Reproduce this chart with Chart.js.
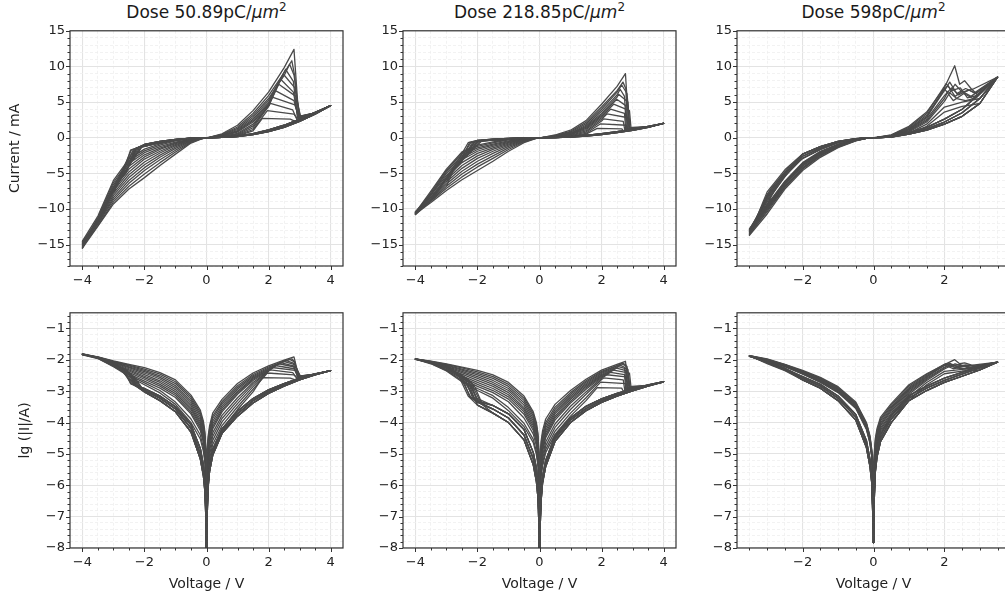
<!DOCTYPE html>
<html>
<head>
<meta charset="utf-8">
<script src="https://cdn.jsdelivr.net/npm/chart.js@4.4.1/dist/chart.umd.min.js"></script>
<style>
  html, body { margin: 0; padding: 0; background: #fff; width: 1005px; height: 599px; overflow: hidden; }
  .panel { position: absolute; }
  .ttl { position: absolute; top: 2px; width: 273px; text-align: center; white-space: nowrap;
         font: 17px/20px "DejaVu Sans"; color: #1a1a1a; }
  .ttl i { font-style: italic; }
  .ttl sup { font-size: 12px; line-height: 0; vertical-align: 7px; }
</style>
</head>
<body>
<div class="ttl" style="left:70px">Dose 50.89pC/<i>μm</i><sup>2</sup></div>
<div class="ttl" style="left:403px">Dose 218.85pC/<i>μm</i><sup>2</sup></div>
<div class="ttl" style="left:737px">Dose 598pC/<i>μm</i><sup>2</sup></div>

<canvas class="panel" id="ivA" width="355" height="293" style="left:0px;top:18px"></canvas>
<canvas class="panel" id="ivB" width="355" height="293" style="left:333px;top:18px"></canvas>
<canvas class="panel" id="ivC" width="355" height="293" style="left:667px;top:18px"></canvas>
<canvas class="panel" id="lgA" width="355" height="293" style="left:0px;top:300px"></canvas>
<canvas class="panel" id="lgB" width="355" height="293" style="left:333px;top:300px"></canvas>
<canvas class="panel" id="lgC" width="355" height="293" style="left:667px;top:300px"></canvas>

<script>
// voltage steps shared by the sweeps (V)
const upV = [0.01, 0.05, 0.1, 0.2, 0.5, 1, 1.5, 2, 2.5];
const setV = [-0.01, -0.05, -0.1, -0.2, -0.5, -1, -1.5, -2];
const hrsV = [3.5, 3, 2.5, 2, 1.5, 1, 0.5, 0.2, 0.1, 0.05, 0.01];
const backV = [-4, -3.5, -3, -2.5, -2, -1.5, -1, -0.5, -0.2, -0.1, -0.05, -0.01];
const cHrsV = [3, 2.5, 2, 1.5, 1, 0.5, 0.2, 0.1, 0.05, 0.01];
const cBackV = [-3.5, -3, -2.5, -2, -1.5, -1, -0.5, -0.2, -0.1, -0.05, -0.01];

// ---- Dose 50.89 pC/um2, currents in mA ----
const aZeroI = 0.000001;
const aUp = [
  [0.009, 0.035, 0.08, 0.2, 0.55, 1.75, 3.8, 6.4, 9.8],
  [0.006, 0.027, 0.064, 0.16, 0.46, 1.5, 3.4, 5.9, 9.1],
  [0.0045, 0.021, 0.052, 0.135, 0.4, 1.3, 3.1, 5.5, 8.7],
  [0.0035, 0.017, 0.042, 0.11, 0.34, 1.15, 2.85, 5.2],
  [0.0027, 0.0135, 0.034, 0.09, 0.29, 1.0, 2.6, 4.9],
  [0.0021, 0.011, 0.028, 0.075, 0.25, 0.9, 2.4, 4.7],
  [0.0016, 0.009, 0.023, 0.063, 0.22, 0.8, 2.2, 4.5],
  [0.0013, 0.0068, 0.017, 0.047, 0.17, 0.62, 1.9, 4.4],
  [0.001, 0.005, 0.013, 0.036, 0.135, 0.5, 1.65, 4.5],
  [0.0008, 0.0037, 0.0095, 0.027, 0.105, 0.4, 1.4, 4.4],
  [0.00065, 0.0027, 0.007, 0.02, 0.08, 0.32, 1.15],
  [0.0005, 0.002, 0.0052, 0.015, 0.062, 0.26, 0.95]
];
const aPeak = [
  [[2.82, 12.4], [2.97, 3.0]],
  [[2.75, 10.8], [2.85, 8.5], [2.94, 2.9]],
  [[2.68, 10.3], [2.82, 8.8], [3.0, 3.0]],
  [[2.55, 9.6], [2.8, 7.9], [2.93, 2.8]],
  [[2.48, 8.9], [2.85, 7.0], [3.02, 2.9]],
  [[2.39, 8.2], [2.8, 6.4], [2.96, 2.7]],
  [[2.33, 7.5], [2.88, 5.8], [3.04, 2.9]],
  [[2.22, 6.6], [2.82, 5.2], [2.98, 2.7]],
  [[2.12, 5.7], [2.85, 4.6], [3.0, 2.7]],
  [[2.06, 4.8], [2.78, 3.9], [2.92, 2.5]],
  [[1.96, 3.8], [2.82, 3.3], [2.95, 2.5]],
  [[1.8, 2.7], [2.7, 2.6], [2.86, 2.3]]
];
const aHrsOut = [[3.5, 3.5], [4, 4.5]];
const aHrsBack = [
  [3.3, 2.3, 1.45, 0.85, 0.42, 0.16, 0.045, 0.009, 0.0028, 0.0008, 0.00004],
  [3.4, 2.45, 1.6, 0.97, 0.5, 0.19, 0.053, 0.011, 0.0034, 0.001, 0.00006],
  [3.55, 2.6, 1.75, 1.1, 0.58, 0.23, 0.063, 0.013, 0.0042, 0.0012, 0.00009]
];
const aHrsNeg = [
  [-0.00003, -0.0006, -0.002, -0.007, -0.05, -0.22, -0.5, -0.95],
  [-0.00005, -0.0009, -0.003, -0.01, -0.066, -0.27, -0.6, -1.08],
  [-0.00008, -0.0013, -0.0045, -0.015, -0.085, -0.32, -0.7, -1.22]
];
const aSet = [
  [[-2.36, -1.7], [-2.8, -5.4], [-3.3, -9.6], [-3.6, -12.5]],
  [[-2.3, -1.55], [-2.6, -3.7], [-3.1, -8.0], [-3.55, -11.9]],
  [[-2.42, -1.7], [-2.7, -4.5], [-3.2, -8.8]],
  [[-2.25, -1.45], [-2.5, -3.4], [-3.0, -7.4]],
  [[-2.45, -1.75], [-2.65, -4.5], [-3.1, -8.2]],
  [[-2.2, -1.4], [-2.45, -3.5], [-2.9, -6.8]],
  [[-2.32, -1.55], [-2.5, -3.9], [-3.0, -7.4]],
  [[-2.15, -1.3], [-2.4, -3.3], [-2.8, -6.0]],
  [[-2.28, -1.5], [-2.42, -3.2], [-2.6, -5.0]],
  [[-2.1, -1.25], [-2.35, -3.0]],
  [[-2.25, -1.45], [-2.4, -3.1]],
  [[-2.05, -1.15], [-2.3, -2.6]]
];
const aBack = [
  [-15.5, -12.4, -9.3, -7.2, -5.6, -3.9, -2.3, -0.75, -0.25, -0.11, -0.05, -0.009],
  [-15.3, -12.3, -9.0, -6.8, -5.1, -3.5, -2.0, -0.65, -0.21, -0.09, -0.04, -0.007],
  [-15.0, -12.1, -8.7, -6.4, -4.6, -3.1, -1.75, -0.56, -0.18, -0.077, -0.034, -0.006],
  [-14.8, -12.0, -8.4, -6.0, -4.2, -2.75, -1.5, -0.48, -0.15, -0.065, -0.028, -0.005],
  [-15.4, -11.9, -8.1, -5.6, -3.8, -2.45, -1.3, -0.41, -0.125, -0.054, -0.023, -0.004],
  [-14.6, -11.8, -7.8, -5.2, -3.4, -2.15, -1.12, -0.35, -0.105, -0.045, -0.019, -0.0033],
  [-15.2, -11.7, -7.5, -4.8, -3.0, -1.9, -0.97, -0.3, -0.09, -0.038, -0.016, -0.0027],
  [-14.9, -11.6, -7.2, -4.4, -2.7, -1.65, -0.84, -0.26, -0.077, -0.032, -0.013, -0.0022],
  [-15.5, -11.5, -6.9, -4.0, -2.4, -1.45, -0.73, -0.22, -0.066, -0.027, -0.011, -0.0018],
  [-14.7, -11.4, -6.6, -3.6, -2.1, -1.25, -0.63, -0.19, -0.056, -0.023, -0.009, -0.0015],
  [-15.1, -11.2, -6.3, -3.3, -1.85, -1.05, -0.45, -0.13, -0.04, -0.016, -0.0065, -0.001],
  [-14.5, -11.0, -6.0, -3.0, -1.6, -0.88, -0.38, -0.1, -0.03, -0.012, -0.005, -0.0008]
];

// ---- Dose 218.85 pC/um2 ----
const bZeroI = 0.000001;
const bUp = [
  [0.005, 0.025, 0.055, 0.13, 0.38, 1.05, 2.4, 4.7, 7.2],
  [0.0037, 0.019, 0.043, 0.1, 0.31, 0.9, 2.15, 4.3, 6.6],
  [0.0028, 0.015, 0.034, 0.083, 0.26, 0.8, 1.95, 4.0, 6.4],
  [0.0022, 0.012, 0.027, 0.068, 0.22, 0.7, 1.75, 3.7, 6.0],
  [0.0017, 0.0095, 0.022, 0.056, 0.19, 0.62, 1.6, 3.4, 5.7],
  [0.0014, 0.0077, 0.018, 0.047, 0.16, 0.55, 1.45, 3.2],
  [0.0011, 0.0063, 0.015, 0.039, 0.14, 0.48, 1.3, 3.0],
  [0.0009, 0.0052, 0.012, 0.033, 0.12, 0.42, 1.15, 2.8],
  [0.00075, 0.0038, 0.0088, 0.024, 0.09, 0.33, 0.95, 2.6],
  [0.0006, 0.003, 0.0068, 0.018, 0.07, 0.26, 0.8, 2.35],
  [0.0005, 0.0023, 0.0052, 0.014, 0.053, 0.2, 0.62],
  [0.0004, 0.0018, 0.004, 0.011, 0.042, 0.16, 0.5]
];
const bPeak = [
  [[2.77, 9.0], [2.88, 1.4]],
  [[2.69, 7.8], [2.78, 6.9], [2.85, 1.3]],
  [[2.65, 7.4], [2.82, 6.2], [2.92, 1.4]],
  [[2.6, 6.8], [2.74, 5.8], [2.8, 1.2]],
  [[2.55, 6.1], [2.85, 5.0], [2.9, 1.3]],
  [[2.49, 5.4], [2.78, 4.5], [2.83, 1.2]],
  [[2.39, 4.7], [2.9, 3.8], [2.95, 1.35]],
  [[2.29, 4.0], [2.74, 3.4], [2.78, 1.1]],
  [[2.18, 3.35], [2.86, 2.8], [2.9, 1.25]],
  [[2.07, 2.65], [2.7, 2.3], [2.75, 1.05]],
  [[1.97, 1.95], [2.8, 1.75], [2.85, 1.15]],
  [[1.86, 1.3], [2.65, 1.25], [2.7, 1.0]]
];
const bHrsOut = [[3.5, 1.5], [4, 2.0]];
const bHrsBack = [
  [1.45, 1.02, 0.7, 0.44, 0.24, 0.1, 0.025, 0.004, 0.0012, 0.0003, 0.00002],
  [1.52, 1.1, 0.78, 0.5, 0.28, 0.12, 0.031, 0.005, 0.0015, 0.0004, 0.00003],
  [1.6, 1.18, 0.86, 0.57, 0.33, 0.14, 0.037, 0.0062, 0.0019, 0.0005, 0.00005]
];
const bHrsNeg = [
  [-0.00002, -0.0004, -0.0013, -0.0045, -0.028, -0.1, -0.2, -0.36],
  [-0.00004, -0.0007, -0.002, -0.007, -0.04, -0.14, -0.27, -0.45],
  [-0.00007, -0.0012, -0.0035, -0.011, -0.06, -0.19, -0.35, -0.58]
];
const bSet = [
  [[-2.05, -0.5], [-2.5, -2.8], [-3.0, -5.6], [-3.5, -8.6]],
  [[-2.2, -0.6], [-2.6, -3.4], [-3.1, -6.4]],
  [[-1.95, -0.45], [-2.3, -2.0], [-2.8, -4.8]],
  [[-2.3, -0.7], [-2.6, -3.0], [-3.0, -5.6]],
  [[-2.1, -0.55], [-2.4, -2.5], [-2.8, -4.6]],
  [[-2.25, -0.65], [-2.5, -2.9]],
  [[-2.0, -0.5], [-2.3, -2.2], [-2.6, -3.8]],
  [[-2.15, -0.6], [-2.4, -2.4]],
  [[-1.9, -0.45], [-2.2, -1.8], [-2.45, -3.0]],
  [[-2.1, -0.6], [-2.3, -2.0]],
  [[-1.85, -0.4], [-2.1, -1.5], [-2.35, -2.6]],
  [[-2.0, -0.5], [-2.2, -1.6]]
];
const bBack = [
  [-10.7, -9.1, -7.4, -5.9, -4.6, -3.3, -1.9, -0.7, -0.22, -0.1, -0.045, -0.008],
  [-10.6, -8.9, -7.1, -5.5, -4.1, -2.9, -1.65, -0.6, -0.19, -0.085, -0.038, -0.0068],
  [-10.8, -8.8, -6.8, -5.1, -3.7, -2.55, -1.42, -0.51, -0.16, -0.072, -0.032, -0.0057],
  [-10.5, -8.7, -6.5, -4.7, -3.3, -2.2, -1.22, -0.43, -0.135, -0.06, -0.027, -0.0048],
  [-10.7, -8.6, -6.2, -4.3, -2.9, -1.9, -1.05, -0.36, -0.113, -0.05, -0.022, -0.004],
  [-10.4, -8.4, -5.9, -3.9, -2.55, -1.65, -0.9, -0.3, -0.095, -0.042, -0.018, -0.0033],
  [-10.7, -8.3, -5.6, -3.5, -2.2, -1.42, -0.77, -0.26, -0.08, -0.035, -0.015, -0.0027],
  [-10.5, -8.1, -5.3, -3.1, -1.9, -1.22, -0.66, -0.22, -0.067, -0.029, -0.0125, -0.0022],
  [-10.6, -8.0, -5.0, -2.8, -1.65, -1.05, -0.56, -0.185, -0.056, -0.024, -0.0104, -0.0018],
  [-10.4, -7.9, -4.8, -2.5, -1.42, -0.9, -0.46, -0.14, -0.043, -0.018, -0.0078, -0.0014],
  [-10.7, -7.7, -4.6, -2.2, -1.22, -0.72, -0.3, -0.095, -0.029, -0.012, -0.0052, -0.001],
  [-10.5, -7.5, -4.4, -2.0, -1.05, -0.6, -0.24, -0.075, -0.023, -0.0095, -0.004, -0.0008]
];

// ---- Dose 598 pC/um2 ----
const cZeroI = 0.000015;
const cUp = [
  [0.006, 0.03, 0.065, 0.15, 0.4, 1.6, 3.6, 7.0],
  [0.0048, 0.025, 0.055, 0.13, 0.36, 1.45, 3.4, 7.2],
  [0.004, 0.021, 0.047, 0.115, 0.32, 1.3, 3.15, 6.8],
  [0.0034, 0.018, 0.041, 0.1, 0.29, 1.2, 2.95, 6.6],
  [0.0029, 0.0155, 0.036, 0.088, 0.26, 1.1, 2.8],
  [0.0025, 0.0135, 0.031, 0.078, 0.23, 1.0, 2.6, 5.9],
  [0.0021, 0.0115, 0.027, 0.068, 0.2, 0.9, 2.4, 5.5],
  [0.0018, 0.01, 0.024, 0.06, 0.18, 0.8, 2.2, 5.1],
  [0.0015, 0.0087, 0.021, 0.052, 0.155, 0.65, 1.9, 4.3, 5.0],
  [0.0013, 0.0075, 0.018, 0.045, 0.13, 0.5, 1.6, 3.6, 4.4]
];
const cPeak = [
  [[2.29, 10.1], [2.43, 7.5], [2.57, 8.0], [2.75, 6.9], [2.9, 6.2]],
  [[2.05, 7.6], [2.2, 6.6], [2.45, 7.0], [2.65, 5.6], [2.9, 5.9]],
  [[2.1, 7.3], [2.3, 5.8], [2.5, 6.5], [2.75, 5.8], [2.95, 6.5]],
  [[2.15, 7.8], [2.35, 6.2], [2.6, 6.9], [2.85, 6.3]],
  [[2.0, 6.9], [2.25, 5.2], [2.55, 6.2], [2.8, 5.5]],
  [[2.2, 7.0], [2.4, 6.0], [2.7, 6.7], [2.95, 6.0]],
  [[2.1, 6.5], [2.35, 5.5], [2.6, 5.2], [2.9, 5.6]],
  [[2.3, 7.5], [2.5, 6.4], [2.8, 6.8]],
  [[3.0, 5.5]],
  [[3.0, 4.8]]
];
const cHrsOut = [[3.5, 8.5]];
const cHrsBack = [
  [4.8, 3.0, 1.9, 1.05, 0.5, 0.1, 0.025, 0.008, 0.0025, 0.00015],
  [5.5, 3.5, 2.2, 1.25, 0.6, 0.13, 0.032, 0.01, 0.0032, 0.0002],
  [6.2, 4.0, 2.6, 1.45, 0.72, 0.17, 0.04, 0.013, 0.004, 0.0003]
];
const cHrsNeg = [
  [-0.00003, -0.0012, -0.004, -0.016, -0.12, -0.5, -1.25, -2.3],
  [-0.00005, -0.0016, -0.0055, -0.021, -0.15, -0.6, -1.45, -2.6],
  [-0.00008, -0.002, -0.007, -0.027, -0.18, -0.7, -1.65, -2.9]
];
const cSet = [
  [[-2.5, -4.5], [-3.0, -7.6]],
  [[-2.4, -4.2], [-2.9, -7.2], [-3.0, -8.0]],
  [[-2.5, -4.8], [-3.0, -8.0]],
  [[-2.3, -3.8], [-2.6, -5.8], [-3.0, -8.3]],
  [[-2.5, -5.0], [-3.0, -8.2]],
  [[-2.4, -4.6], [-2.8, -7.0], [-3.0, -8.4]],
  [[-2.5, -5.2], [-3.0, -8.6]],
  [[-2.2, -3.6], [-2.5, -5.5], [-3.0, -8.8]],
  [[-2.5, -5.4], [-3.0, -9.0]],
  [[-2.6, -5.6], [-3.0, -9.3]]
];
const cBack = [
  [-13.7, -10.7, -7.2, -4.6, -2.75, -1.4, -0.45, -0.1, -0.038, -0.014, -0.0025],
  [-13.5, -10.4, -7.0, -4.4, -2.6, -1.32, -0.42, -0.095, -0.035, -0.013, -0.0023],
  [-13.6, -10.2, -6.9, -4.3, -2.5, -1.26, -0.4, -0.09, -0.033, -0.012, -0.0021],
  [-13.2, -10.0, -6.8, -4.2, -2.4, -1.2, -0.38, -0.085, -0.031, -0.011, -0.002],
  [-13.4, -9.9, -6.6, -4.0, -2.3, -1.14, -0.36, -0.08, -0.029, -0.0105, -0.0019],
  [-13.0, -9.7, -6.4, -3.9, -2.2, -1.08, -0.34, -0.075, -0.027, -0.01, -0.0018],
  [-13.3, -9.8, -6.5, -3.8, -2.15, -1.04, -0.33, -0.072, -0.026, -0.0095, -0.0017],
  [-12.9, -9.5, -6.3, -3.7, -2.05, -0.98, -0.31, -0.068, -0.024, -0.009, -0.0016],
  [-13.1, -9.6, -6.2, -3.6, -2.0, -0.95, -0.3, -0.065, -0.023, -0.0085, -0.0015],
  [-12.8, -9.4, -6.1, -3.5, -1.9, -0.9, -0.28, -0.06, -0.022, -0.008, -0.0014]
];

// one full cycle per line: 0 -> +V (reset) -> 0 -> -V (set) -> 0
function buildCycles(p) {
  return p.up.map(function(up, k) {
    const pts = [[0, p.zero]];
    const top = p.peak[k];
    up.forEach(function(c, i) { if (upV[i] < top[0][0]) pts.push([upV[i], c]); });
    pts.push(...top, ...p.hrsOut);
    const hb = p.hrsBack[k % p.hrsBack.length];
    p.hrsV.forEach(function(v, i) { pts.push([v, hb[i]]); });
    pts.push([0, p.zero]);
    const hn = p.hrsNeg[k % p.hrsNeg.length];
    const set = p.set[k];
    setV.forEach(function(v, i) { if (v > set[0][0]) pts.push([v, hn[i]]); });
    pts.push(...set);
    const lastV = set[set.length - 1][0];
    const back = p.back[k];
    for (let i = p.backV.length - 1; i >= 0; i--) {
      if (p.backV[i] < lastV) pts.push([p.backV[i], back[i]]);
    }
    for (let i = 1; i < p.backV.length; i++) pts.push([p.backV[i], back[i]]);
    pts.push([0, p.zero]);
    return pts;
  });
}

const cyclesA = buildCycles({ zero: aZeroI, up: aUp, peak: aPeak, hrsOut: aHrsOut, hrsV: hrsV, hrsBack: aHrsBack,
  hrsNeg: aHrsNeg, set: aSet, backV: backV, back: aBack });
const cyclesB = buildCycles({ zero: bZeroI, up: bUp, peak: bPeak, hrsOut: bHrsOut, hrsV: hrsV, hrsBack: bHrsBack,
  hrsNeg: bHrsNeg, set: bSet, backV: backV, back: bBack });
const cyclesC = buildCycles({ zero: cZeroI, up: cUp, peak: cPeak, hrsOut: cHrsOut, hrsV: cHrsV, hrsBack: cHrsBack,
  hrsNeg: cHrsNeg, set: cSet, backV: cBackV, back: cBack });

Chart.defaults.font.family = '"DejaVu Sans"';
Chart.defaults.color = '#222';

function tickSet(lo, hi, minor, major) {
  const out = [];
  const n = Math.round((hi - lo) / minor);
  for (let i = 0; i <= n; i++) {
    const v = +(lo + i * minor).toFixed(3);
    const r = v / major;
    out.push({ value: v, big: Math.abs(r - Math.round(r)) < 1e-6 });
  }
  return out;
}

function fmt(v) {
  return v < 0 ? '\u2212' + Math.abs(v) : String(Math.abs(v));
}

// spines plus major/minor tick marks, matplotlib style
const frame = {
  id: 'frame',
  afterDatasetsDraw(chart) {
    const { ctx, chartArea: a } = chart;
    const sx = chart.scales.x, sy = chart.scales.y;
    ctx.save();
    ctx.strokeStyle = '#333';
    ctx.lineWidth = 1;
    ctx.beginPath();
    sx.ticks.forEach(function(t) {
      const px = Math.round(sx.getPixelForValue(t.value)) + 0.5;
      ctx.moveTo(px, a.bottom);
      ctx.lineTo(px, a.bottom + (t.big ? 4 : 2.5));
    });
    sy.ticks.forEach(function(t) {
      const py = Math.round(sy.getPixelForValue(t.value)) + 0.5;
      ctx.moveTo(a.left, py);
      ctx.lineTo(a.left - (t.big ? 4 : 2.5), py);
    });
    ctx.stroke();
    ctx.lineWidth = 1.2;
    ctx.strokeRect(a.left, a.top, a.right - a.left, a.bottom - a.top);
    ctx.restore();
  }
};

function makePanel(id, cycles, cfg) {
  const toY = cfg.log ? function(c) { return Math.log10(Math.abs(c) / 1000); } : function(c) { return c; };
  const gridOpts = {
    color: function(c) { return c.tick && c.tick.big ? '#e3e3e3' : '#efefef'; },
    lineWidth: function(c) { return c.tick && c.tick.big ? 1.1 : 0.8; },
    drawTicks: false
  };
  const borderOpts = {
    display: false,
    dash: function(c) { return c.tick && c.tick.big ? [] : [3, 2]; }
  };
  new Chart(document.getElementById(id), {
    type: 'scatter',
    data: {
      datasets: cycles.map(function(pts) {
        return {
          data: pts.map(function(p) { return { x: p[0], y: toY(p[1]) }; }),
          showLine: true,
          borderColor: '#4a4a4a',
          borderWidth: 1.3,
          borderJoinStyle: 'round',
          pointRadius: 0,
          tension: 0
        };
      })
    },
    options: {
      responsive: false,
      animation: false,
      events: [],
      layout: { padding: { left: 0, top: 10, right: 12, bottom: 0 } },
      plugins: { legend: { display: false }, tooltip: { enabled: false } },
      scales: {
        x: {
          type: 'linear', min: cfg.xMin, max: cfg.xMax, bounds: 'data',
          afterBuildTicks: function(s) { s.ticks = tickSet(cfg.xLo, cfg.xHi, 0.5, 2); },
          afterFit: function(s) { s.height = 45; },
          ticks: { autoSkip: false, maxRotation: 0, padding: 7, font: { size: 13 },
            callback: function(v, i, t) { return t[i].big ? fmt(v) : ''; } },
          grid: gridOpts, border: borderOpts,
          title: { display: !!cfg.xTitle, text: cfg.xTitle || '', font: { size: 14 }, padding: { top: 0, bottom: 0 } }
        },
        y: {
          type: 'linear', min: cfg.yMin, max: cfg.yMax, bounds: 'data',
          afterBuildTicks: function(s) { s.ticks = tickSet(cfg.yMin, cfg.yTop, cfg.yMinor, cfg.yMajor); },
          afterFit: function(s) { s.width = 70; },
          ticks: { autoSkip: false, padding: 5, font: { size: 13 },
            callback: function(v, i, t) { return t[i].big ? fmt(v) : ''; } },
          grid: gridOpts, border: borderOpts,
          title: { display: !!cfg.yTitle, text: cfg.yTitle || '', font: { size: 14 }, padding: { top: cfg.yTitlePad || 0, bottom: 0 } }
        }
      }
    },
    plugins: [frame]
  });
}

const topRow = { yMin: -18, yMax: 15, yTop: 15, yMinor: 1, yMajor: 5 };
const lgRow = { log: true, yMin: -8, yMax: -0.5, yTop: -0.6, yMinor: 0.2, yMajor: 1, xTitle: 'Voltage / V' };
const wideX = { xMin: -4.4, xMax: 4.4, xLo: -4, xHi: 4 };
const narrowX = { xMin: -3.85, xMax: 3.85, xLo: -3.5, xHi: 3.5 };

makePanel('ivA', cyclesA, Object.assign({ yTitle: 'Current / mA', yTitlePad: 7 }, topRow, wideX));
makePanel('ivB', cyclesB, Object.assign({}, topRow, wideX));
makePanel('ivC', cyclesC, Object.assign({}, topRow, narrowX));
makePanel('lgA', cyclesA, Object.assign({ yTitle: 'lg (|I|/A)', yTitlePad: 17 }, lgRow, wideX));
makePanel('lgB', cyclesB, Object.assign({}, lgRow, wideX));
makePanel('lgC', cyclesC, Object.assign({}, lgRow, narrowX));
</script>
</body>
</html>
